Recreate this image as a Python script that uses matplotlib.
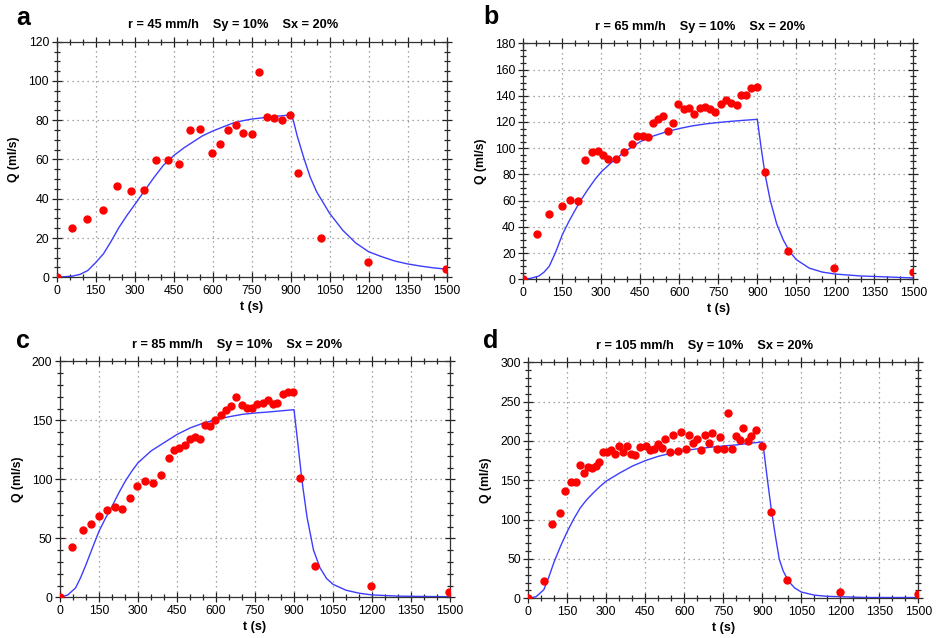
import matplotlib
matplotlib.use("Agg")
import matplotlib.pyplot as plt
from matplotlib.ticker import MultipleLocator

plt.rcParams['font.family'] = ['Liberation Sans', 'DejaVu Sans']

# --- datos observados (t en s, Q en ml/s) ---
t_obs_a = [0, 58, 118, 179, 232, 285, 337, 381, 429, 472, 513, 553, 596, 628, 658, 688,
           718, 750, 779, 808, 836, 867, 897, 927, 1018, 1197, 1497]
q_obs_a = [0, 25.3, 29.9, 34.3, 46.7, 44.0, 44.5, 59.6, 59.6, 57.9, 75.2, 75.7, 63.2, 68.1,
           74.9, 77.4, 73.5, 73.0, 104.4, 81.5, 81.2, 80.1, 82.9, 53.3, 20.0, 7.8, 4.2]

t_obs_b = [0, 53, 100, 149, 178, 210, 236, 265, 286, 306, 327, 358, 387, 417, 438, 459, 479,
           499, 517, 536, 556, 577, 596, 617, 636, 658, 678, 699, 719, 738, 759, 779, 800,
           821, 837, 856, 877, 897, 928, 1018, 1196, 1497]
q_obs_b = [0, 34.8, 50.1, 56.2, 60.8, 59.5, 90.8, 96.9, 97.6, 94.8, 91.5, 91.5, 96.9, 103.5,
           109.6, 109.6, 108.3, 119.0, 122.3, 124.8, 112.9, 119.0, 133.5, 129.7, 130.9, 125.9,
           130.9, 131.7, 129.7, 127.6, 133.5, 137.0, 134.2, 133.0, 140.3, 140.3, 145.7, 146.4,
           81.6, 21.9, 8.6, 5.3]

t_obs_c = [0, 46, 88, 118, 149, 179, 210, 237, 268, 296, 327, 358, 388, 418, 438, 459, 479,
           499, 518, 537, 558, 577, 597, 618, 637, 658, 678, 699, 719, 738, 759, 779, 800,
           818, 836, 856, 877, 897, 924, 982, 1197, 1497]
q_obs_c = [0, 42.7, 56.8, 61.9, 68.6, 73.7, 76.3, 74.6, 84.2, 94.6, 98.6, 96.9, 103.7, 118.4,
           124.9, 126.3, 129.4, 133.9, 135.9, 133.9, 145.8, 144.9, 150.3, 154.5, 158.5, 162.4,
           169.8, 163.0, 160.2, 160.2, 163.6, 165.0, 167.5, 163.6, 165.0, 172.6, 174.3, 174.0,
           101.1, 26.3, 9.9, 4.8]

t_obs_d = [0, 60, 91, 122, 141, 163, 183, 199, 213, 228, 244, 259, 273, 289, 304, 318, 335,
           349, 364, 378, 394, 411, 431, 451, 469, 483, 499, 513, 527, 544, 558, 574, 587,
           605, 618, 633, 649, 665, 680, 694, 708, 725, 738, 753, 769, 783, 799, 814, 827,
           844, 858, 875, 899, 935, 994, 1200, 1497]
q_obs_d = [0, 21.6, 95, 109, 137, 148, 148, 169, 159, 167, 166, 168, 173, 186, 186, 189, 183,
           193, 186, 193, 183, 182, 192, 193, 188, 190, 196, 191, 203, 186, 208, 187, 211,
           190, 207, 197, 203, 189, 207, 197, 210, 190, 205, 190, 235, 190, 206, 201, 216,
           200, 206, 214, 194, 110, 23, 8.5, 5.1]

# --- curvas del modelo ---
t_mod_a = [0, 30, 60, 90, 120, 150, 180, 210, 240, 270, 300, 340, 375, 410, 450, 490, 525,
           560, 600, 640, 675, 710, 750, 790, 825, 860, 900, 910, 925, 950, 975, 1000, 1050,
           1100, 1150, 1200, 1250, 1300, 1350, 1400, 1450, 1500]
q_mod_a = [0, 0.3, 0.6, 1.5, 3.5, 7.5, 12, 18.5, 25.5, 31.5, 37, 44.5, 51, 57, 62, 66, 69,
           72, 74.5, 76.6, 78.4, 79.6, 80.6, 81.2, 81.8, 82.2, 82.7, 80, 72, 61, 51, 43.5,
           32.5, 24, 17.5, 13, 10.5, 8.3, 6.8, 5.7, 4.8, 4.1]

t_mod_b = [0, 30, 60, 80, 100, 125, 150, 175, 200, 225, 250, 275, 300, 350, 400, 450, 500,
           550, 600, 650, 700, 750, 800, 850, 900, 915, 930, 950, 975, 1000, 1025, 1050,
           1100, 1150, 1200, 1300, 1400, 1500]
q_mod_b = [0, 0.8, 2.5, 5.5, 10, 21, 34, 44, 53, 61.5, 69, 76, 82, 91, 98.6, 105, 109.3,
           112.5, 115, 117, 118.5, 119.6, 120.5, 121.3, 122, 100, 80, 60, 42, 30, 21, 15,
           8.5, 5.5, 4, 2.5, 1.8, 1]

t_mod_c = [0, 30, 60, 80, 100, 125, 150, 175, 200, 225, 250, 275, 300, 350, 400, 450, 500,
           550, 600, 650, 700, 750, 800, 850, 900, 915, 930, 950, 975, 1000, 1025, 1050,
           1100, 1150, 1200, 1300, 1400, 1500]
q_mod_c = [0, 2, 8, 17, 27.7, 42, 56, 67, 77, 88, 98, 106.5, 114, 124, 131, 138, 143.5,
           147.5, 150.6, 153, 155, 156.2, 157, 158, 159, 130, 100, 68, 40, 25, 16, 11, 6,
           3.5, 2, 1, 0.7, 0.5]

t_mod_d = [0, 30, 60, 80, 100, 125, 150, 175, 200, 225, 250, 275, 300, 350, 400, 450, 500,
           550, 600, 650, 700, 750, 800, 850, 900, 905, 920, 935, 950, 965, 980, 1000, 1025,
           1050, 1100, 1150, 1200, 1300, 1400, 1500]
q_mod_d = [0, 2, 11, 28, 47, 67, 85, 101, 115, 125.5, 134, 142, 149, 159, 168, 175, 180.5,
           184.5, 187.7, 190, 192, 193.6, 195, 197, 198.7, 190, 150, 112, 80, 50, 35, 22, 13,
           8, 4, 2.5, 2, 1, 1, 1]

letras = ['a', 'b', 'c', 'd']
intensidades = [45, 65, 85, 105]
y_max = [120, 180, 200, 300]
y_paso = [20, 20, 50, 50]
y_menor = [5, 5, 10, 10]

obs = [(t_obs_a, q_obs_a), (t_obs_b, q_obs_b), (t_obs_c, q_obs_c), (t_obs_d, q_obs_d)]
mod = [(t_mod_a, q_mod_a), (t_mod_b, q_mod_b), (t_mod_c, q_mod_c), (t_mod_d, q_mod_d)]

W, H = 936, 638
# posiciones de los ejes en pixeles: (izq, arriba, der, abajo)
cajas = [(56.7, 41.7, 446.7, 277.3), (523.3, 43.3, 913.3, 279.3),
         (60.0, 361.3, 450.0, 597.3), (528.3, 362.3, 918.3, 598.3)]
pos_letras = [(23, 18), (491, 17), (23, 341), (491, 341)]

fig = plt.figure(figsize=(W / 100, H / 100), dpi=100)

for i in range(4):
    x0, y0, x1, y1 = cajas[i]
    ax = fig.add_axes([x0 / W, 1 - y1 / H, (x1 - x0) / W, (y1 - y0) / H])

    ax.plot(mod[i][0], mod[i][1], color='#3d3dff', lw=1.0, zorder=2)
    ax.plot(obs[i][0], obs[i][1], 'o', color='#ff0000', ms=5, mec='#ff0000', zorder=3)

    ax.set_xlim(0, 1500)
    ax.set_ylim(0, y_max[i])
    ax.xaxis.set_major_locator(MultipleLocator(150))
    ax.xaxis.set_minor_locator(MultipleLocator(50))
    ax.yaxis.set_major_locator(MultipleLocator(y_paso[i]))
    ax.yaxis.set_minor_locator(MultipleLocator(y_menor[i]))

    ax.grid(True, which='major', color='#888888', linestyle=(0, (1, 3)), lw=0.9)
    ax.tick_params(which='both', direction='inout', top=True, right=True,
                   labelsize=8.8, width=0.9, color='#222222', pad=2)
    ax.tick_params(which='major', length=7)
    ax.tick_params(which='minor', length=4)
    for s in ax.spines.values():
        s.set_color('#333333')
        s.set_linewidth(0.9)

    ax.set_xlabel('t (s)', fontsize=9, fontweight='bold', labelpad=3)
    ax.set_ylabel('Q (ml/s)', fontsize=8.8, fontweight='bold', labelpad=6)
    ax.text(0.453, 1.07, 'r = %d mm/h    Sy = 10%%    Sx = 20%%' % intensidades[i],
            transform=ax.transAxes, ha='center', va='center', fontsize=9.2,
            fontweight='bold')

    fig.text(pos_letras[i][0] / W, 1 - pos_letras[i][1] / H, letras[i], fontsize=18,
             fontweight='bold', ha='center', va='center')

fig.savefig('out.png', dpi=100)
